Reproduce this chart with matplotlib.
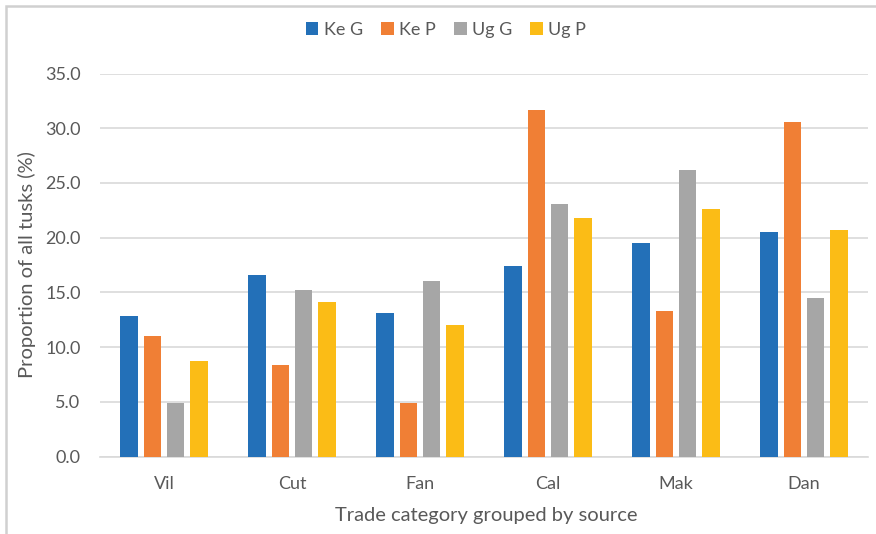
import numpy as np
import matplotlib.pyplot as plt
import matplotlib.patches as patches

categories = ['Vil', 'Cut', 'Fan', 'Cal', 'Mak', 'Dan']
series_names = ['Ke G', 'Ke P', 'Ug G', 'Ug P']
ke_g = [12.8, 16.6, 13.1, 17.4, 19.5, 20.5]
ke_p = [11.0, 8.4, 4.9, 31.7, 13.3, 30.6]
ug_g = [4.9, 15.2, 16.0, 23.1, 26.2, 14.5]
ug_p = [8.7, 14.1, 12.0, 21.8, 22.6, 20.7]
colors = ['#2370b8', '#f07f35', '#a6a6a6', '#fbbc16']

plt.rcParams['font.family'] = ['Lato', 'DejaVu Sans']
text_color = '#595959'

W, H = 876, 534
x0, x1, y_top, y_bot = 100, 868, 73.5, 456.5
fig = plt.figure(figsize=(W / 100, H / 100), dpi=100)
ax = fig.add_axes([x0 / W, 1 - y_bot / H, (x1 - x0) / W, (y_bot - y_top) / H])

x = np.arange(len(categories))
step = 0.18
width = 0.14
for k, (name, vals) in enumerate(zip(series_names, [ke_g, ke_p, ug_g, ug_p])):
    ax.bar(x + (k - 1.5) * step, vals, width=width, color=colors[k],
           label=name, zorder=3)

ax.set_xlim(-0.5, len(categories) - 0.5)
ax.set_ylim(0, 35)
ax.set_yticks(np.arange(0, 35.1, 5))
ax.set_yticklabels([f'{v:.1f}' for v in np.arange(0, 35.1, 5)])
ax.set_xticks(x)
ax.set_xticklabels(categories)
ax.tick_params(length=0, labelsize=13, colors=text_color)
ax.tick_params(axis='x', pad=14)
ax.tick_params(axis='y', pad=14)
ax.grid(axis='y', color='#d9d9d9', linewidth=1.2, zorder=0)
for s in ['top', 'right', 'left']:
    ax.spines[s].set_visible(False)
ax.spines['bottom'].set_color('#d9d9d9')
ax.spines['bottom'].set_linewidth(1.2)

ax.set_ylabel('Proportion of all tusks (%)', fontsize=14.5, color=text_color)
ax.set_xlabel('Trade category grouped by source', fontsize=14.5,
              color=text_color)
ax.yaxis.set_label_coords((27 - x0) / (x1 - x0), 0.5)
ax.xaxis.set_label_coords(0.503, (y_bot - 516) / (y_bot - y_top))
ax.xaxis.label.set_va('center')
ax.yaxis.label.set_va('center')

fig.legend(loc='center', bbox_to_anchor=(446 / W, 1 - 30 / H), ncol=4,
           frameon=False, fontsize=13, labelcolor=text_color,
           handlelength=0.7, handleheight=0.7, handletextpad=0.3,
           columnspacing=1.0)

# light frame around the whole chart
fig.patches.append(patches.Rectangle((6 / W, -0.05), 1.0, 1.05 - 6 / H,
                                     transform=fig.transFigure, fill=False,
                                     edgecolor='#d0d0d0', linewidth=1.8))

fig.savefig('out.png', dpi=100)
